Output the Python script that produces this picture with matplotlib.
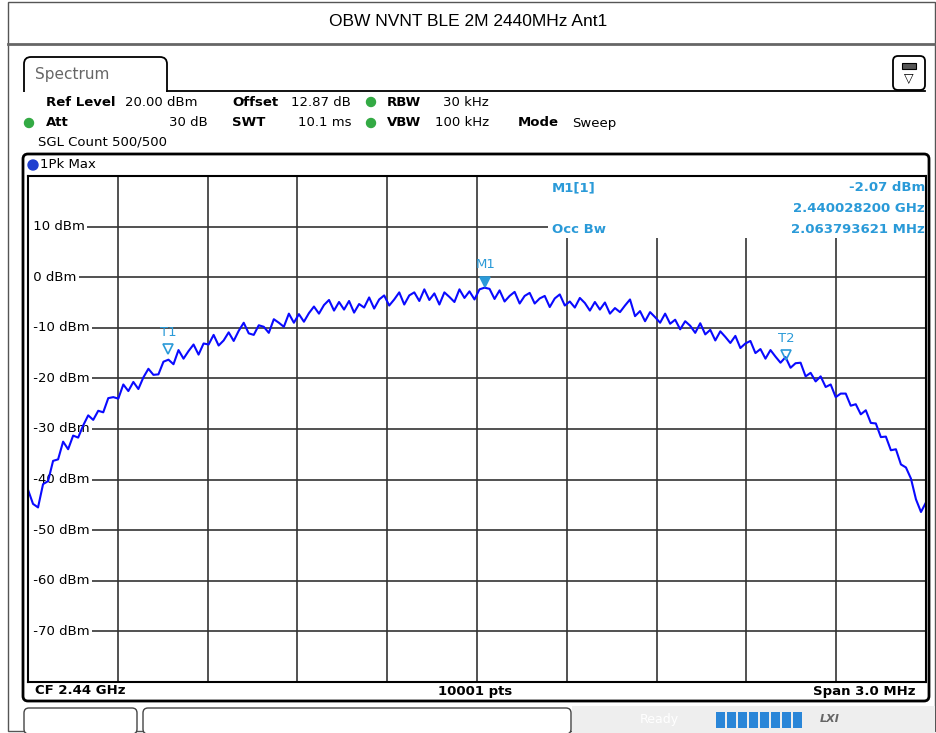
import numpy as np
import matplotlib
matplotlib.use("Agg")
import matplotlib.pyplot as plt
from matplotlib.patches import FancyBboxPatch, Rectangle, Circle

W, H = 937, 733

# trace (dBm), equally spaced sweep points
level = [
    -42.0, -44.8, -45.5, -40.9, -40.3, -36.3, -36.0, -32.5, -34.0, -31.3,
    -31.7, -29.3, -27.3, -28.2, -26.4, -26.7, -23.9, -23.7, -24.0, -21.2,
    -22.5, -20.7, -22.1, -19.8, -18.1, -19.3, -19.2, -16.7, -16.3, -17.2,
    -14.4, -16.1, -14.6, -13.3, -15.3, -13.1, -13.3, -11.4, -13.5, -12.5,
    -10.9, -12.6, -10.6, -9.0, -11.1, -11.4, -9.5, -9.8, -11.0, -8.3,
    -9.0, -9.8, -7.2, -9.0, -7.3, -8.8, -7.1, -5.8, -7.2, -5.5,
    -4.5, -6.6, -4.9, -6.4, -4.7, -7.0, -5.3, -6.0, -4.0, -6.2,
    -4.4, -3.6, -5.6, -4.4, -3.0, -5.4, -3.6, -3.0, -4.7, -2.4,
    -4.5, -3.2, -5.4, -3.0, -3.9, -4.9, -2.4, -4.1, -2.8, -4.4,
    -2.4, -2.07, -2.3, -4.3, -2.6, -4.8, -3.7, -2.9, -5.2, -3.7,
    -3.1, -5.2, -4.2, -3.7, -5.9, -4.2, -3.4, -5.6, -4.8, -6.0,
    -4.1, -5.1, -6.6, -4.9, -6.4, -5.0, -7.2, -6.1, -6.9, -5.6,
    -4.4, -7.7, -6.7, -8.7, -6.9, -7.9, -9.0, -7.2, -9.2, -8.4,
    -10.3, -8.7, -9.6, -11.0, -9.1, -11.3, -10.4, -12.5, -10.7, -11.8,
    -13.0, -11.6, -14.0, -13.1, -12.6, -15.0, -14.2, -16.1, -14.4, -15.7,
    -16.9, -15.8, -17.9, -17.0, -16.9, -19.6, -18.9, -20.6, -19.6, -21.7,
    -21.2, -23.7, -23.0, -23.0, -25.4, -25.1, -27.1, -26.3, -28.8, -28.9,
    -31.6, -31.5, -34.2, -34.0, -37.0, -37.6, -39.8, -43.9, -46.4, -44.5,
]
f_start, f_stop = 2438.5, 2441.5   # MHz
y_ticks = [10, 0, -10, -20, -30, -40, -50, -60, -70]
y_labels = ["10 dBm", "0 dBm", "-10 dBm", "-20 dBm", "-30 dBm",
            "-40 dBm", "-50 dBm", "-60 dBm", "-70 dBm"]
markers = {"M1": (2440.0282, -2.07), "T1": (2438.9685, -15.4), "T2": (2441.0323, -16.6)}

freq = np.linspace(f_start, f_stop, len(level))

fig = plt.figure(figsize=(W / 100, H / 100), dpi=100)
bg = fig.add_axes([0, 0, 1, 1])
bg.set_xlim(0, W)
bg.set_ylim(H, 0)
bg.axis("off")

mblue = "#2a9ad8"

# title band
bg.add_patch(Rectangle((8, 2), 927, 729, fill=False, ec="#555555", lw=1))
bg.plot([8, 935], [44, 44], color="#666666", lw=2)
bg.text(468, 22, "OBW NVNT BLE 2M 2440MHz Ant1", ha="center", va="center",
        fontsize=12.5, family="Liberation Sans")

# spectrum tab (open at the bottom)
bg.add_patch(FancyBboxPatch((24, 57), 143, 50, boxstyle="round,pad=0,rounding_size=7",
                            fc="white", ec="black", lw=1.3, zorder=1))
bg.add_patch(Rectangle((20, 92), 152, 20, fc="white", ec="none", zorder=1.2))
bg.plot([167, 925], [91, 91], color="black", lw=1.3, zorder=1.3)
bg.text(35, 74, "Spectrum", fontsize=11, color="#666666", va="center")
bg.add_patch(FancyBboxPatch((893, 56), 32, 34, boxstyle="round,pad=0,rounding_size=5",
                            fc="white", ec="black", lw=1.3))
bg.add_patch(Rectangle((902, 63), 14, 6, fc="#555555", ec="black", lw=0.8))
bg.text(909, 78, "▽", ha="center", va="center", fontsize=9)

# header settings
fs = 9.5
def hdr(x, y, s, bold=False, ha="left"):
    bg.text(x, y, s, fontsize=fs, va="center", ha=ha, zorder=3,
            fontweight="bold" if bold else "normal")

green = "#33aa44"
hdr(46, 102, "Ref Level", True); hdr(125, 102, "20.00 dBm")
hdr(232, 102, "Offset", True); hdr(291, 102, "12.87 dB")
bg.add_patch(Circle((371, 102), 4.5, color=green))
hdr(387, 102, "RBW", True); hdr(443, 102, "30 kHz")
bg.add_patch(Circle((29, 123), 4.5, color=green, zorder=2))
hdr(46, 123, "Att", True); hdr(208, 123, "30 dB", ha="right")
hdr(232, 123, "SWT", True); hdr(298, 123, "10.1 ms")
bg.add_patch(Circle((371, 123), 4.5, color=green))
hdr(387, 123, "VBW", True); hdr(435, 123, "100 kHz")
hdr(518, 123, "Mode", True); hdr(572, 123, "Sweep")
hdr(38, 142, "SGL Count 500/500")

# diagram frame
bg.add_patch(FancyBboxPatch((23, 154), 906, 547, boxstyle="round,pad=0,rounding_size=5",
                            fc="white", ec="black", lw=2))
bg.add_patch(Circle((33, 165), 5, color="#1f3fd0"))
bg.text(40, 165, "1Pk Max", fontsize=fs, va="center")
bg.text(35, 691, "CF 2.44 GHz", fontsize=fs, va="center", fontweight="bold")
bg.text(475, 691, "10001 pts", fontsize=fs, va="center", ha="center", fontweight="bold")
bg.text(916, 691, "Span 3.0 MHz", fontsize=fs, va="center", ha="right", fontweight="bold")

# status bar
bg.add_patch(FancyBboxPatch((24, 708), 113, 26, boxstyle="round,pad=0,rounding_size=5",
                            fc="white", ec="#444444", lw=1))
bg.add_patch(FancyBboxPatch((143, 708), 428, 26, boxstyle="round,pad=0,rounding_size=5",
                            fc="white", ec="#444444", lw=1))
bg.add_patch(Rectangle((572, 706), 363, 27, fc="#eeeeee", ec="none"))
bg.text(640, 720, "Ready", fontsize=9, color="white", va="center")
for i in range(8):
    bg.add_patch(Rectangle((716 + i * 11, 712), 9, 16, fc="#2a86d8", ec="none"))
bg.text(830, 719, "LXI", fontsize=8, color="#666666", va="center",
        fontweight="bold", style="italic", ha="center")

# plot area
ax = fig.add_axes([28 / W, 1 - 682 / H, 898 / W, 506 / H])
ax.set_xlim(f_start, f_stop)
ax.set_ylim(-80, 20)
ax.set_xticks(np.linspace(f_start, f_stop, 11))
ax.set_yticks(y_ticks)
ax.tick_params(length=0, labelbottom=False, labelleft=False)
ax.grid(True, color="#333333", lw=1.2)
ax.set_axisbelow(True)
for sp in ax.spines.values():
    sp.set_color("black")
    sp.set_linewidth(1.5)
    sp.set_zorder(6)

for v, lab in zip(y_ticks, y_labels):
    ax.text(0.0015, v, " " + lab, transform=ax.get_yaxis_transform(), fontsize=fs,
            va="center", ha="left", zorder=3,
            bbox=dict(fc="white", ec="none", pad=1.5))

# marker info box
ax.add_patch(Rectangle((0.579, 0.877), 0.421, 0.123, transform=ax.transAxes,
                       fc="white", ec="none", zorder=2.5))
info_kw = dict(transform=ax.transAxes, fontsize=fs, color=mblue,
               fontweight="bold", va="center", zorder=3)
ax.text(0.583, 0.977, "M1[1]", **info_kw)
ax.text(0.999, 0.977, "-2.07 dBm", ha="right", **info_kw)
ax.text(0.999, 0.935, "2.440028200 GHz", ha="right", **info_kw)
ax.text(0.583, 0.895, "Occ Bw", **info_kw)
ax.text(0.999, 0.895, "2.063793621 MHz", ha="right", **info_kw)

ax.plot(freq, level, color="#0a0aff", lw=1.5, zorder=4)

for name, (fx, fy) in markers.items():
    filled = name == "M1"
    ax.plot([fx], [fy + 1.2], marker="v", ms=7, color=mblue,
            mfc=mblue if filled else "none", mew=1.2, zorder=5)
    ax.text(fx, fy + 3.2, name, color=mblue, fontsize=fs, ha="center",
            va="bottom", zorder=5)

fig.savefig("out.png", dpi=100)
